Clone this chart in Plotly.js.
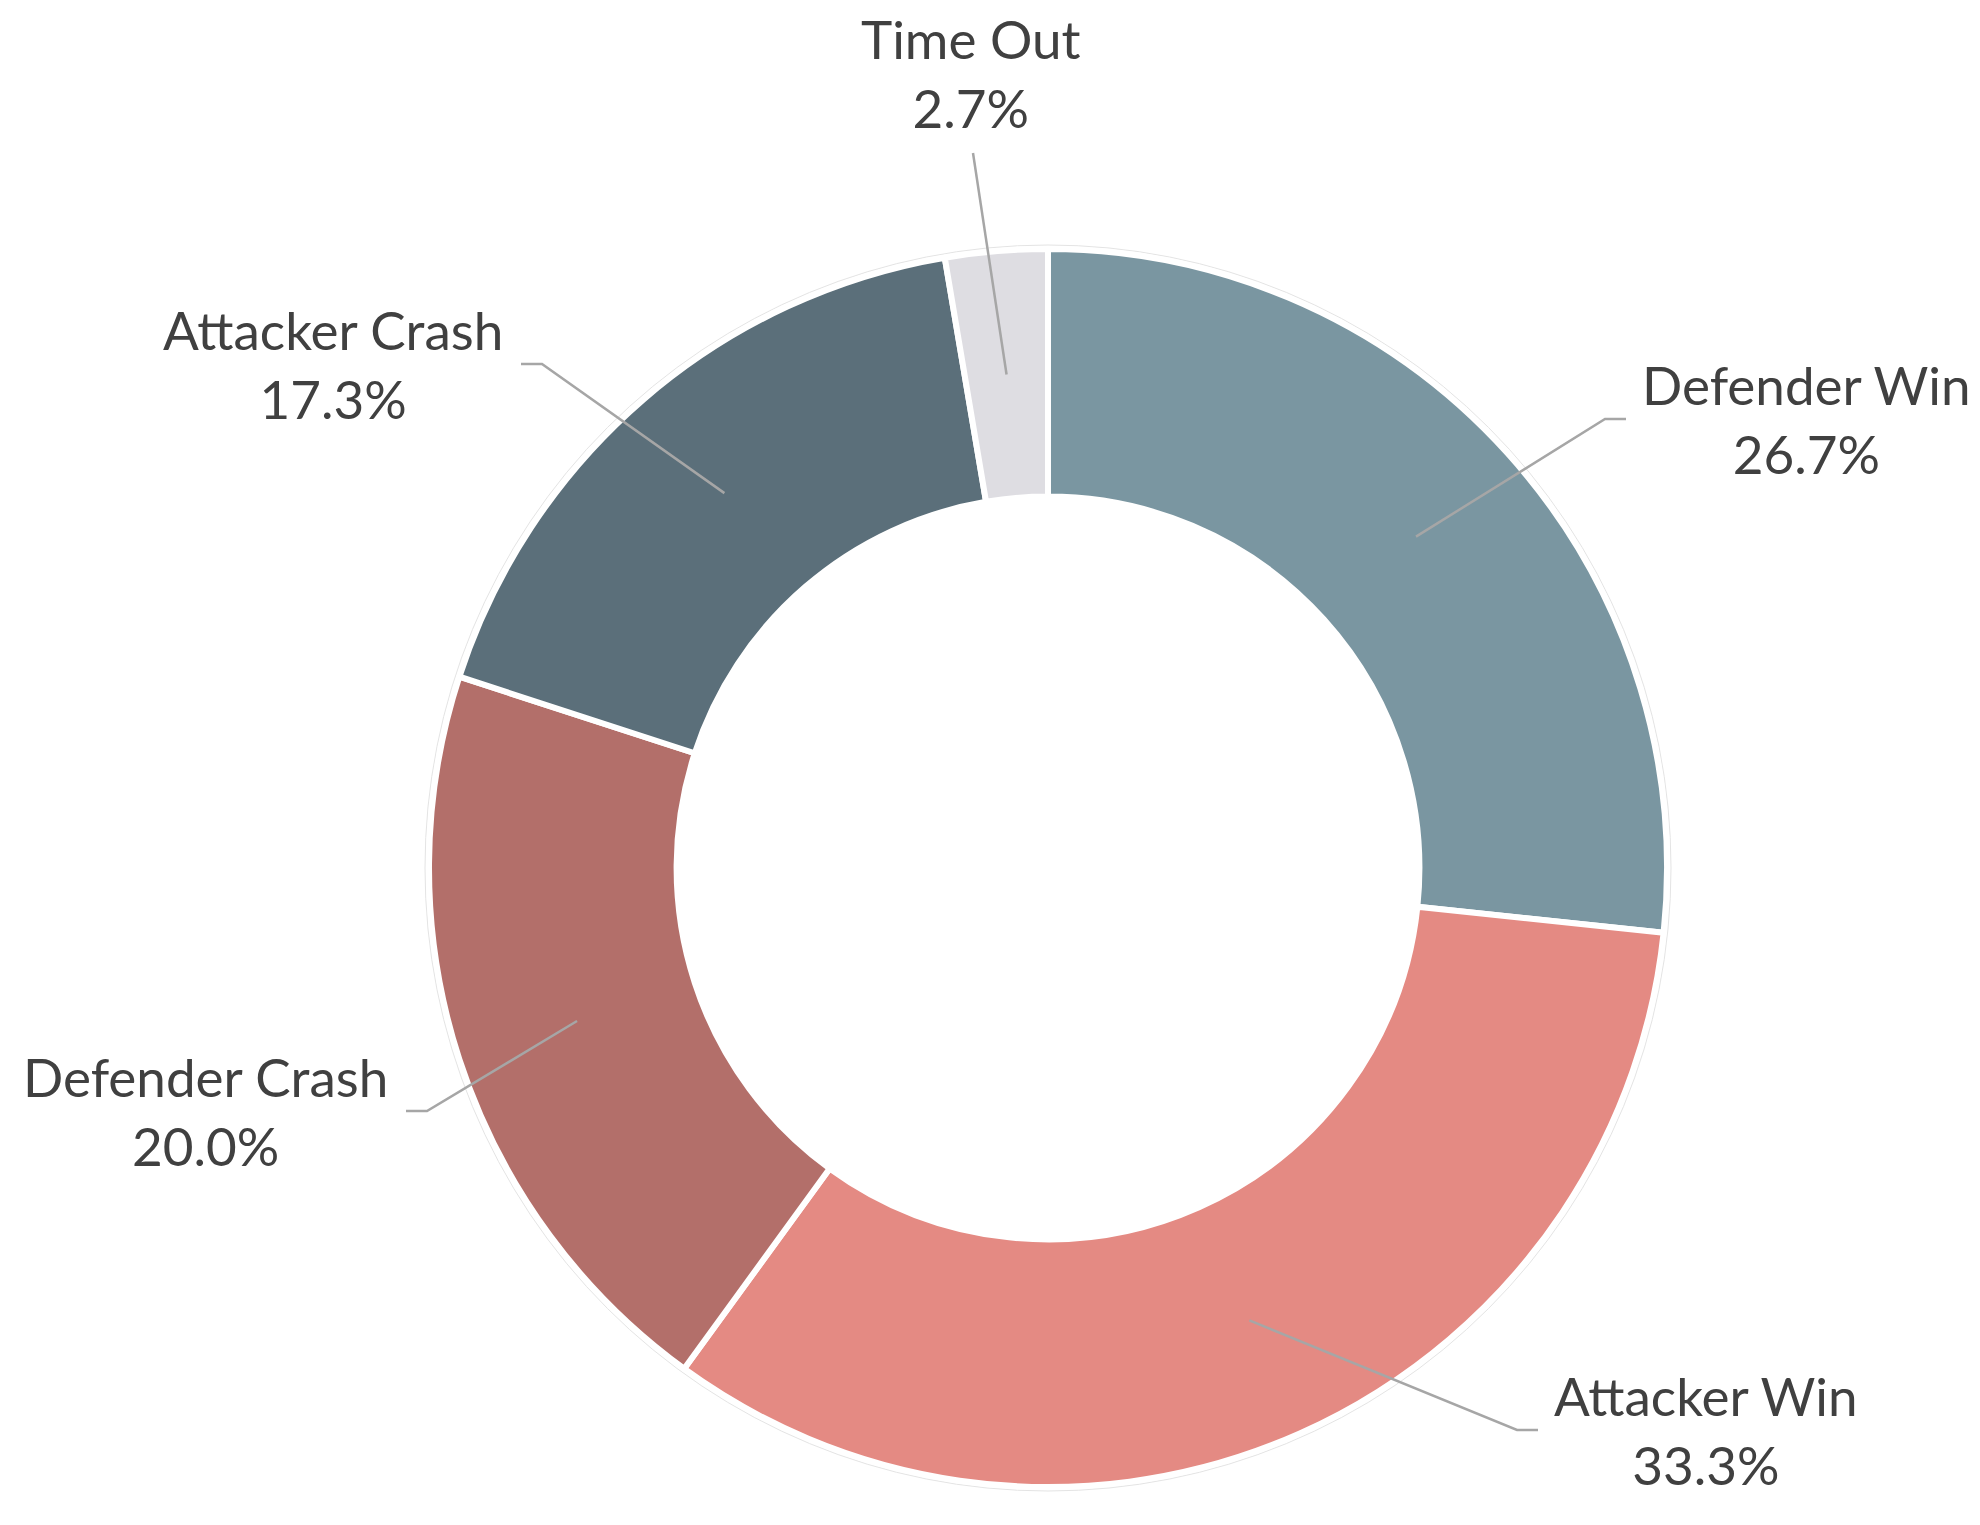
<!DOCTYPE html>
<html>
<head>
<meta charset="utf-8">
<script src="https://cdn.plot.ly/plotly-3.0.1.min.js"></script>
<style>html,body{margin:0;padding:0;background:#fff;}#chart{width:1980px;height:1525px;}</style>
</head>
<body>
<div id="chart"></div>
<script>
// ---- data ----
const categories = ['Defender Win', 'Attacker Win', 'Defender Crash', 'Attacker Crash', 'Time Out'];
const counts = [20, 25, 15, 13, 2];

// ---- styles ----
const sliceColors = ['#7A96A1', '#E48A83', '#B36F6A', '#5B6F7A', '#DEDDE2'];
const W = 1980, H = 1525;
const CX = 1048, CY = 868, R = 619, HOLE = 0.6;
// label placement: side and the pixel point where the leader line ends
const labelSide = ['right', 'right', 'left', 'left', 'top'];
const labelEndX = [1626, 1538, 406, 521, 973];
const labelEndY = [419, 1430, 1111, 364, 153];
const elbowLen = 21;
const textColor = '#404040';
const lineColor = '#A6A6A6';
const fontFamily = 'Lato, "Open Sans", sans-serif';
const fontSize = 53;

const total = counts.reduce((a, b) => a + b, 0);
const px = x => x / W;
const py = y => 1 - y / H;

const shapes = [];
const annotations = [];
let cum = 0;
counts.forEach((v, i) => {
  const midDeg = (cum + v / 2) / total * 360; // clockwise from top
  cum += v;
  const a = midDeg * Math.PI / 180;
  const rMid = R * (1 + HOLE) / 2;
  const sx = CX + rMid * Math.sin(a);
  const sy = CY - rMid * Math.cos(a);
  const ex = labelEndX[i], ey = labelEndY[i];
  let path;
  const txt = categories[i] + '<br>' + (v / total * 100).toFixed(1) + '%';
  const ann = {text: txt, showarrow: false, xref: 'paper', yref: 'paper',
    font: {family: fontFamily, size: fontSize, color: textColor}, align: 'center'};
  if (labelSide[i] === 'right') {
    const bx = ex - elbowLen;
    path = `M${px(sx)},${py(sy)} L${px(bx)},${py(ey)} L${px(ex)},${py(ey)}`;
    Object.assign(ann, {x: px(ex + 14), y: py(ey), xanchor: 'left', yanchor: 'middle'});
  } else if (labelSide[i] === 'left') {
    const bx = ex + elbowLen;
    path = `M${px(sx)},${py(sy)} L${px(bx)},${py(ey)} L${px(ex)},${py(ey)}`;
    Object.assign(ann, {x: px(ex - 16), y: py(ey), xanchor: 'right', yanchor: 'middle'});
  } else {
    path = `M${px(sx)},${py(sy)} L${px(ex)},${py(ey)}`;
    Object.assign(ann, {x: px(ex - 2), y: py(ey - 12), xanchor: 'center', yanchor: 'bottom'});
  }
  shapes.push({type: 'path', xref: 'paper', yref: 'paper', path: path,
    line: {color: lineColor, width: 2.5}, layer: 'above'});
  annotations.push(ann);
});

// faint outer ring around the donut
shapes.unshift({type: 'circle', xref: 'paper', yref: 'paper', layer: 'below',
  x0: px(CX - 623), x1: px(CX + 623), y0: py(CY + 623), y1: py(CY - 623),
  line: {color: '#E4E4E4', width: 1}});

const trace = {
  type: 'pie',
  labels: categories,
  values: counts,
  hole: HOLE,
  sort: false,
  direction: 'clockwise',
  rotation: 0,
  textinfo: 'none',
  hoverinfo: 'label+percent',
  showlegend: false,
  marker: {colors: sliceColors, line: {color: '#FFFFFF', width: 6}},
  domain: {x: [px(CX - R), px(CX + R)], y: [py(CY + R), py(CY - R)]}
};

const layout = {
  width: W, height: H,
  margin: {l: 0, r: 0, t: 0, b: 0},
  paper_bgcolor: '#FFFFFF',
  plot_bgcolor: '#FFFFFF',
  showlegend: false,
  shapes: shapes,
  annotations: annotations
};

Plotly.newPlot('chart', [trace], layout, {displayModeBar: false, staticPlot: true});
</script>
</body>
</html>
